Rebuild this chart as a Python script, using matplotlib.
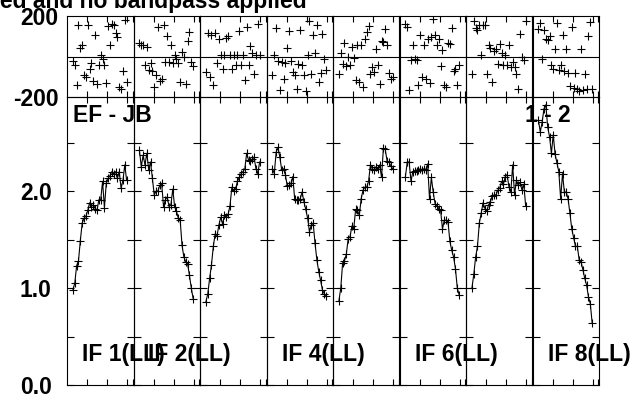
import numpy as np
import matplotlib
matplotlib.use('Agg')
import matplotlib.pyplot as plt

plt.rcParams['font.family'] = ['Liberation Sans', 'DejaVu Sans']
plt.rcParams['font.weight'] = 'bold'
plt.rcParams['axes.unicode_minus'] = False

# Baseline / labels
title = 'Calibrated and no bandpass applied'
baseline = 'EF - JB'
stokes_id = '1 - 2'
if_labels = ['IF 1(LL)', 'IF 2(LL)', None, 'IF 4(LL)', None, 'IF 6(LL)', None, 'IF 8(LL)']

# Amplitude per channel (30 channels per IF)
amp = [
    [0.98, 1.05, 1.23, 1.28, 1.49, 1.67, 1.72, 1.74, 1.80, 1.88, 1.84, 1.86, 1.82, 1.80, 1.91,
     1.91, 2.10, 1.83, 2.08, 2.13, 2.16, 2.20, 2.18, 2.20, 2.13, 2.20, 2.03, 2.11, 2.27, 2.11],
    [2.42, 2.25, 2.37, 2.27, 2.39, 2.22, 2.30, 2.13, 1.96, 2.00, 2.00, 2.06, 2.08, 1.84, 1.91,
     1.94, 1.84, 1.86, 2.02, 1.84, 1.79, 1.72, 1.70, 1.44, 1.32, 1.27, 1.25, 1.13, 1.00, 0.89],
    [0.86, 0.94, 1.10, 1.24, 1.43, 1.56, 1.54, 1.65, 1.73, 1.66, 1.75, 1.73, 1.76, 1.85, 2.04,
     2.00, 2.02, 2.10, 2.14, 2.18, 2.20, 2.23, 2.39, 2.32, 2.31, 2.33, 2.35, 2.23, 2.18, 2.30],
    [2.23, 2.18, 2.40, 2.45, 2.35, 2.22, 2.23, 2.17, 2.05, 2.06, 2.08, 2.15, 1.92, 1.91, 1.91,
     1.92, 1.99, 1.89, 1.81, 1.72, 1.58, 1.65, 1.67, 1.46, 1.29, 1.17, 1.08, 0.98, 0.94, 0.92],
    [0.87, 1.00, 1.26, 1.28, 1.35, 1.51, 1.53, 1.64, 1.61, 1.81, 1.80, 1.75, 1.92, 2.01, 2.04,
     2.04, 2.10, 2.27, 2.23, 2.22, 2.25, 2.23, 2.27, 2.14, 2.44, 2.43, 2.31, 2.30, 2.26, 2.23],
    [2.15, 2.30, 2.30, 2.10, 2.20, 2.21, 2.21, 2.22, 2.23, 2.22, 2.23, 2.22, 2.28, 1.92, 2.14,
     1.99, 1.87, 1.85, 1.82, 1.80, 1.61, 1.70, 1.70, 1.68, 1.48, 1.39, 1.32, 1.20, 1.00, 0.93],
    [1.00, 1.14, 1.32, 1.43, 1.67, 1.77, 1.88, 1.82, 1.79, 1.86, 1.89, 1.95, 1.96, 1.96, 2.01,
     2.03, 2.10, 2.07, 2.15, 2.17, 2.04, 1.99, 2.27, 1.96, 2.11, 2.06, 2.09, 2.01, 2.07, 1.85],
    [2.73, 2.61, 2.71, 2.85, 2.89, 2.66, 2.56, 2.39, 2.58, 2.38, 2.29, 2.20, 1.92, 2.18, 1.99,
     1.99, 1.92, 1.77, 1.61, 1.52, 1.43, 1.43, 1.29, 1.27, 1.19, 1.10, 1.03, 0.91, 0.84, 0.64],
]

# Phase per channel (degrees)
phase = [
    [-24, -44, -142, 157, 42, 55, -90, -101, 154, -60, -30, -123, 105, -134, -40,
     9, -11, -40, -129, 151, 58, 162, 157, 118, 96, -150, -159, -73, 179, -126],
    [68, 55, 58, -40, 47, -68, -30, -73, -150, -90, 146, -123, -109, 157, -27,
     101, -27, 58, -30, 9, -11, -30, -126, 22, -3, -134, 75, 121, -27, -47],
    [-77, 118, -101, 108, -139, 118, -30, 88, 9, -60, 9, 91, 101, 9, -60,
     9, -44, 6, 124, -44, 9, -118, 146, -40, 52, 19, -85, 9, 162, 6],
    [-90, 9, 141, -24, -167, -27, -109, -30, 42, 124, -24, -77, -90, -162, -35,
     129, -40, -90, -172, 9, 174, -85, 105, 19, 157, -126, -80, 113, -11, -68],
    [-85, 19, -35, 68, -47, -3, -44, 47, -7, -118, 55, -126, 55, -151, 88,
     121, 151, -85, -52, -77, 35, -44, -134, 75, 72, 134, 58, -80, -109, -101],
    [162, 146, -167, -19, 58, -14, -19, -139, 105, -101, 55, -109, 88, -129, 96,
     184, 108, 55, 88, -47, 30, -139, -151, 68, 63, 141, -73, -63, -139, -44],
    [-85, 174, 141, 129, 157, 6, 154, 157, -85, 55, 42, -126, 26, 39, -35,
     63, 19, -40, 9, -40, 58, -52, -27, -52, -85, -159, 113, -3, -19, 174],
    [137, 167, -11, 129, 85, 80, 101, -44, -63, 35, 167, -68, -40, 108, -73,
     35, -80, -146, 146, -156, -80, -162, -172, 35, -167, -85, -162, 101, 170, -162],
]

W, H = 636, 394
fig = plt.figure(figsize=(W / 100, H / 100), dpi=100)

left, right = 67 / W, 599 / W
ph_bot, ph_top = 1 - 97 / H, 1 - 16 / H
am_bot, am_top = 1 - 385 / H, 1 - 97 / H
n_if = len(amp)
pw = (right - left) / n_if
fs = 16.5
chan = np.arange(len(amp[0]))
xticks = [7.6, 18.4, 29.2, 32.3]

for k in range(n_if):
    x0 = left + k * pw
    axp = fig.add_axes([x0, ph_bot, pw, ph_top - ph_bot])
    axa = fig.add_axes([x0, am_bot, pw, am_top - am_bot])
    for ax in (axp, axa):
        ax.set_facecolor('none')
        ax.set_xlim(-3.2, 32.7)
        ax.set_xticks(xticks)
        ax.tick_params(axis='x', direction='in', top=True, bottom=True, length=4,
                       width=0.8, labelbottom=False)
        for s in ax.spines.values():
            s.set_linewidth(0.8)

    axp.plot(chan, phase[k], '+', color='black', ms=6, mew=0.8)
    axp.axhline(0, color='black', lw=0.8)
    axp.set_ylim(-200, 200)
    axp.set_yticks([-200, 200])
    axp.tick_params(axis='y', length=0, pad=6, labelsize=fs, labelleft=(k == 0))

    axa.plot(chan, amp[k], '-', color='black', lw=0.8, marker='+', ms=6, mew=0.8)
    axa.set_ylim(0, 2.97)
    axa.set_yticks([0.0, 1.0, 2.0])
    axa.set_yticks([0.5, 1.5, 2.5], minor=True)
    axa.set_yticklabels(['0.0', '1.0', '2.0'])
    axa.tick_params(axis='y', which='both', direction='in', left=True, right=True,
                    length=5, width=0.8, pad=11, labelsize=fs, labelleft=(k == 0))
    if if_labels[k]:
        fig.text(x0 + 15 / W, 1 - 355 / H, if_labels[k],
                 fontsize=fs, fontweight='bold', ha='left', va='center')

fig.text(73 / W, 1 - 115 / H, baseline, fontsize=fs, fontweight='bold', ha='left', va='center')
fig.text(571 / W, 1 - 115 / H, stokes_id, fontsize=fs, fontweight='bold', ha='right', va='center')
fig.text(307 / W, 1 - 8 / H, title, fontsize=fs, fontweight='bold', ha='right', va='baseline')

fig.savefig('out.png', dpi=100)
